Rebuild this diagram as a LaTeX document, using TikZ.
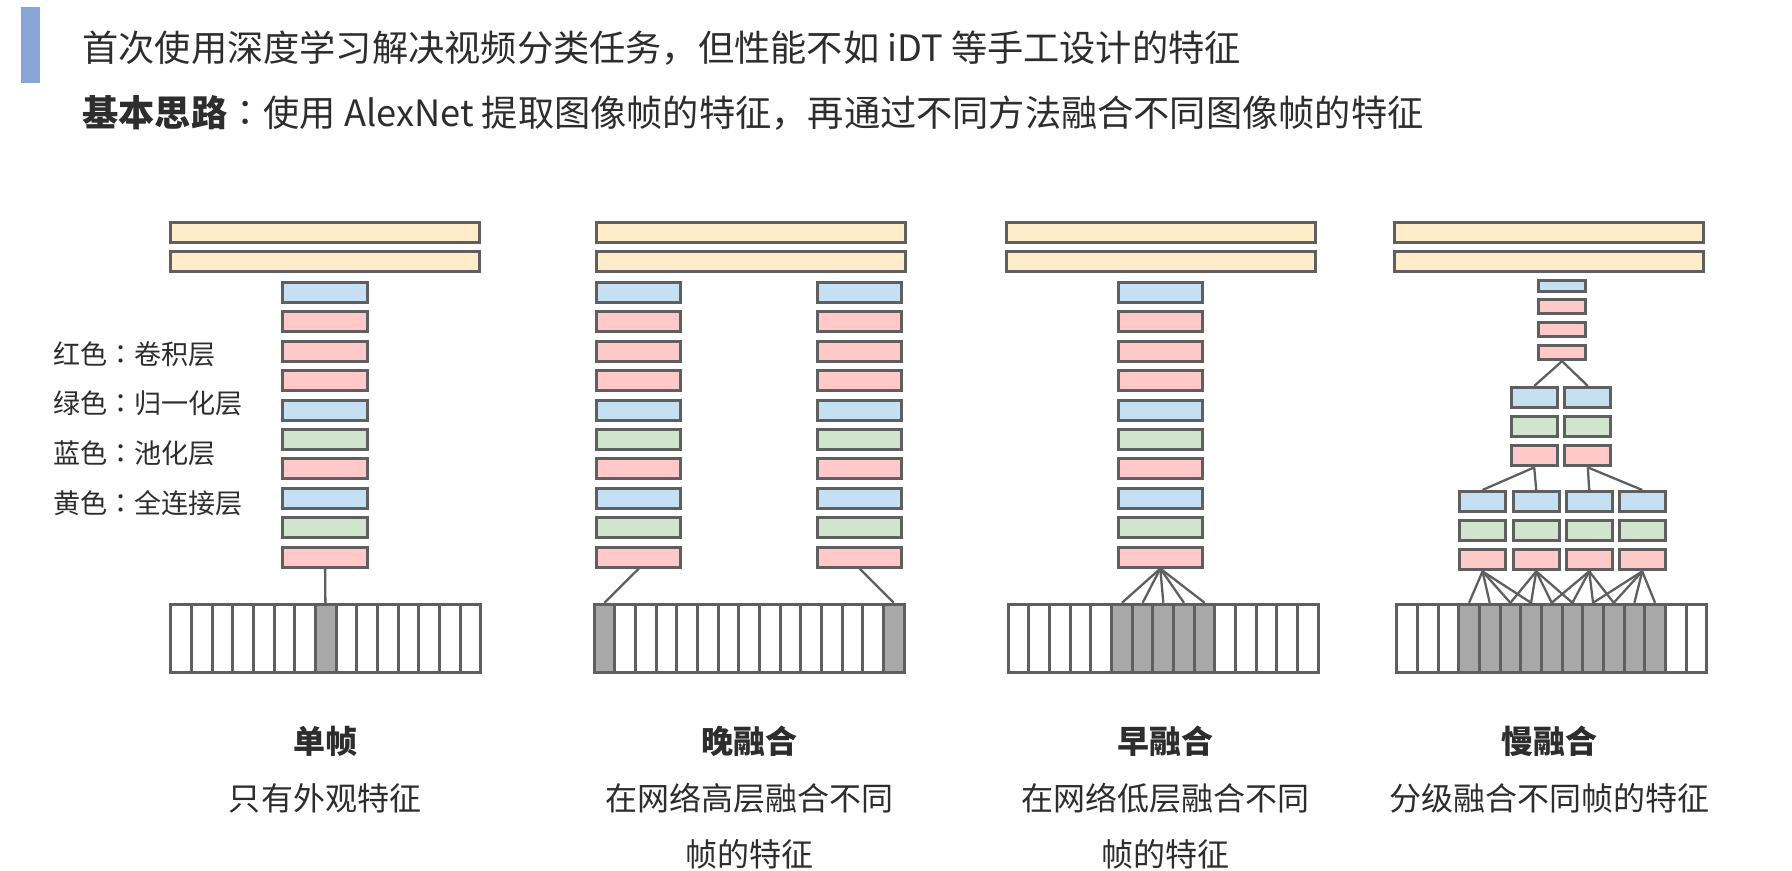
\documentclass[tikz,border=0pt]{standalone}
\usepackage{fontspec}
\setmainfont{Noto Sans CJK SC}
\newfontfamily\tcfont{Noto Sans CJK TC}
\usetikzlibrary{positioning}

\definecolor{convred}{RGB}{255,201,201}
\definecolor{poolblue}{RGB}{197,223,243}
\definecolor{normgreen}{RGB}{209,229,206}
\definecolor{fcyellow}{RGB}{254,237,200}
\definecolor{edgegray}{RGB}{95,95,95}
\definecolor{shade}{RGB}{168,168,168}
\definecolor{textgray}{RGB}{45,45,45}
\definecolor{barblue}{RGB}{137,165,214}

\newcommand{\headfont}{\fontsize{10.3pt}{13pt}\selectfont}
\newcommand{\capfont}{\fontsize{9.1pt}{15.9pt}\selectfont}
\newcommand{\keyfont}{\fontsize{7.7pt}{9pt}\selectfont}
\newcommand{\fullcolon}{{\tcfont ：}}

\begin{document}
\begin{tikzpicture}[x = 0.01cm, y = -0.01cm,
  layer/.style = {draw = edgegray, line width = 0.85pt, inner sep = 0pt,
    minimum width = 0.84cm, minimum height = 0.2cm},
  conv/.style = {layer, fill = convred},
  pool/.style = {layer, fill = poolblue},
  norm/.style = {layer, fill = normgreen},
  fc/.style = {layer, fill = fcyellow, minimum width = 3.08cm, minimum height = 0.2cm},
  half/.style = {minimum width = 0.46cm},
  cell/.style = {draw = edgegray, line width = 0.85pt, inner sep = 0pt,
    minimum width = 0.20667cm, minimum height = 0.68cm},
  fw/.style = {fill = white},
  fg/.style = {fill = shade},
  link/.style = {draw = edgegray, line width = 0.65pt},
  txt/.style = {text = textgray, inner sep = 0pt}]

\useasboundingbox (0,0) rectangle (1792,871);
\fill[white] (0,0) rectangle (1792,871);

% heading
\fill[barblue] (20.7,6.7) rectangle (40,82.7);
\node[txt, anchor = west, font = \headfont] (head1) at (81.7,48.3) {首次使用深度学习解决视频分类任务，但性能不如 iDT 等手工设计的特征};
\node[txt, anchor = west, font = \headfont] (head2) at (81.7,112.5) {\textbf{基本思路}\fullcolon 使用 AlexNet 提取图像帧的特征，再通过不同方法融合不同图像帧的特征};

% legend
\node[txt, anchor = west, font = \keyfont] (key1) at (52.7,354) {红色\fullcolon 卷积层};
\node[txt, anchor = west, font = \keyfont] (key2) at (52.7,403.7) {绿色\fullcolon 归一化层};
\node[txt, anchor = west, font = \keyfont] (key3) at (52.7,453.4) {蓝色\fullcolon 池化层};
\node[txt, anchor = west, font = \keyfont] (key4) at (52.7,503.1) {黄色\fullcolon 全连接层};

% fully connected layers
\foreach \p/\x in {1/325,2/751,3/1161,4/1549}{
  \node[fc] (y\p-a) at (\x,232.8) {};
  \node[fc] (y\p-b) at (\x,262) {};
}

% single, late and early towers
\foreach \s [count=\i from 0] in {pool,conv,conv,conv,pool,norm,conv,pool,norm,conv}{
  \node[\s] (p1-\i) at (325,{292.5+29.4*\i}) {};
  \node[\s] (p2a-\i) at (638.8,{292.5+29.4*\i}) {};
  \node[\s] (p2b-\i) at (859.5,{292.5+29.4*\i}) {};
  \node[\s] (p3-\i) at (1160.3,{292.5+29.4*\i}) {};
}

% slow fusion tower
\node[pool, minimum width = 0.47cm, minimum height = 0.11cm] (t0) at (1562,286.5) {};
\node[conv, minimum width = 0.47cm, minimum height = 0.14cm] (t1) at (1562,307) {};
\node[conv, minimum width = 0.47cm, minimum height = 0.14cm] (t2) at (1562,330) {};
\node[conv, minimum width = 0.47cm, minimum height = 0.14cm] (t3) at (1562,352.7) {};
\foreach \s [count=\i from 0] in {pool,norm,conv}{
  \node[\s, half] (m1-\i) at (1534.2,{397.5+29.2*\i}) {};
  \node[\s, half] (m2-\i) at (1587.8,{397.5+29.2*\i}) {};
  \foreach \c/\x in {1/1482.5,2/1536.2,3/1589.2,4/1642.2}
    \node[\s, half] (b\c-\i) at (\x,{501.5+29.2*\i}) {};
}

% frame strips
\foreach \c [count=\k] in {fw,fw,fw,fw,fw,fw,fw,fg,fw,fw,fw,fw,fw,fw,fw}
  \node[cell, \c] (f1-\k) at ({170.7+20.667*(\k-0.5)},638.3) {};
\foreach \c [count=\k] in {fg,fw,fw,fw,fw,fw,fw,fw,fw,fw,fw,fw,fw,fw,fg}
  \node[cell, \c] (f2-\k) at ({594+20.667*(\k-0.5)},638.3) {};
\foreach \c [count=\k] in {fw,fw,fw,fw,fw,fg,fg,fg,fg,fg,fw,fw,fw,fw,fw}
  \node[cell, \c] (f3-\k) at ({1008.3+20.667*(\k-0.5)},638.3) {};
\foreach \c [count=\k] in {fw,fw,fw,fg,fg,fg,fg,fg,fg,fg,fg,fg,fg,fw,fw}
  \node[cell, \c] (f4-\k) at ({1396.7+20.667*(\k-0.5)},638.3) {};

% connections
\draw[link] (p1-9) -- (f1-8);
\draw[link] (p2a-9.south) -- (f2-1.north);
\draw[link] (p2b-9.south) -- (f2-15.north);
\foreach \k in {6,...,10}
  \draw[link] (p3-9.south) -- (f3-\k.north);
\draw[link] (t3.south) -- (m1-0.north);
\draw[link] (t3.south) -- (m2-0.north);
\draw[link] (m1-2.south) -- (b1-0.north);
\draw[link] (m1-2.south) -- (b2-0.north);
\draw[link] (m2-2.south) -- (b3-0.north);
\draw[link] (m2-2.south) -- (b4-0.north);
\foreach \c in {1,...,4}
  \foreach \j in {0,...,3}{
    \pgfmathtruncatemacro\k{2*\c+2+\j}
    \draw[link] (b\c-2.south) -- (f4-\k.north);
  }

% captions
\node[txt, font = \capfont] (cap1) at (325,741.7) {\textbf{单帧}};
\node[txt, font = \capfont] (sub1) at (325,798.3) {只有外观特征};
\node[txt, font = \capfont] (cap2) at (749,741.7) {\textbf{晚融合}};
\node[txt, font = \capfont, align = center] (sub2) at (749,826.2) {在网络高层融合不同\\帧的特征};
\node[txt, font = \capfont] (cap3) at (1165,741.7) {\textbf{早融合}};
\node[txt, font = \capfont, align = center] (sub3) at (1165,826.2) {在网络低层融合不同\\帧的特征};
\node[txt, font = \capfont] (cap4) at (1549,741.7) {\textbf{慢融合}};
\node[txt, font = \capfont] (sub4) at (1549,798.3) {分级融合不同帧的特征};
\end{tikzpicture}
\end{document}
